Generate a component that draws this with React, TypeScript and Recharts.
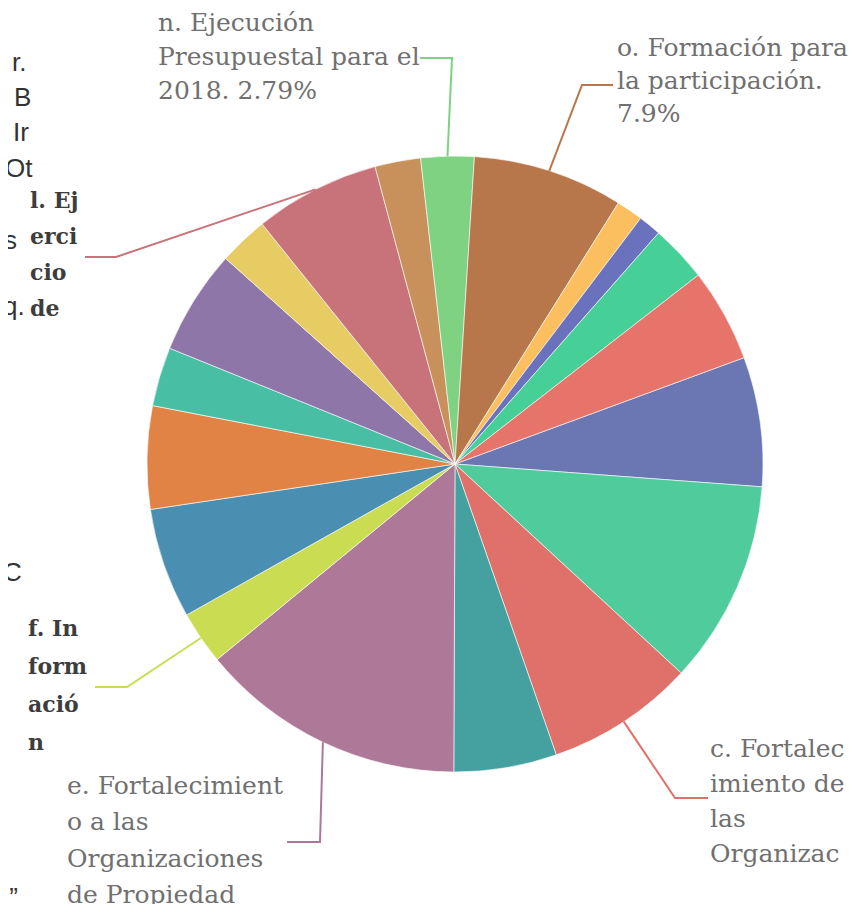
import type { JSX } from "react";

import { Cell, Pie, PieChart } from "recharts";

// slices clockwise, starting at the "a." slice
const categories = ["a", "b", "c", "d", "e", "f", "g", "h", "i", "j", "k", "l", "m", "n", "o", "p", "q", "r", "s"];
const shares = [6.8, 10.7, 7.8, 5.4, 14.0, 2.8, 5.8, 5.4, 3.1, 5.5, 2.6, 6.6, 2.4, 2.79, 7.9, 1.4, 1.2, 3.0, 4.9];
const colors = [
	"#6b77b2", "#4fcb9c", "#e0716a", "#45a0a0", "#ae7898", "#cadc52", "#4a8fb1", "#e08345", "#48bfa5", "#8f76a8",
	"#e6cc62", "#c8737a", "#c8915c", "#7fd282", "#b7774a", "#fbbf5f", "#6a72bd", "#46d098", "#e6746a",
];

const labelText: Record<string, string[]> = {
	c: ["c. Fortalec", "imiento de", "las", "Organizac"],
	e: ["e. Fortalecimient", "o a las", "Organizaciones", "de Propiedad"],
	f: ["f. In", "form", "ació", "n"],
	l: ["l. Ej", "erci", "cio", "de"],
	n: ["n. Ejecución", "Presupuestal para el", "2018. 2.79%"],
	o: ["o. Formación para", "la participación.", "7.9%"],
};

type LabelLayout = { elbow: [number, number]; end: [number, number]; x: number; y: number; step: number; dark?: boolean };

const labelLayout: Record<string, LabelLayout> = {
	c: { elbow: [675, 798], end: [708, 798], x: 710, y: 748, step: 35 },
	e: { elbow: [320, 842], end: [287, 842], x: 67, y: 785, step: 36.5 },
	f: { elbow: [127, 687], end: [95, 687], x: 28, y: 628, step: 38, dark: true },
	l: { elbow: [116, 257], end: [85, 257], x: 30, y: 200, step: 36, dark: true },
	n: { elbow: [452, 58], end: [420, 58], x: 158, y: 22, step: 34 },
	o: { elbow: [582, 85], end: [613, 85], x: 617, y: 47, step: 33 },
};

const data = categories.map((c, i) => ({ name: c, value: shares[i] }));

function SliceLabel(props: any): JSX.Element | null {
	const { cx, cy, midAngle, outerRadius, index } = props;
	const key = categories[index];
	const layout = labelLayout[key];
	if (!layout) return null;
	const rad = (-midAngle * Math.PI) / 180;
	const sx = cx + outerRadius * Math.cos(rad);
	const sy = cy + outerRadius * Math.sin(rad);
	return (
		<g>
			<polyline
				fill="none"
				points={`${sx},${sy} ${layout.elbow[0]},${layout.elbow[1]} ${layout.end[0]},${layout.end[1]}`}
				stroke={colors[index]}
				strokeWidth={2}
			/>
			{labelText[key].map((line, i) => (
				<text
					dominantBaseline="central"
					fill={layout.dark ? "#3d3d3d" : "#707070"}
					fontFamily="DejaVu Serif"
					fontSize={layout.dark ? 22 : 25}
					fontWeight={layout.dark ? 700 : 400}
					key={line}
					x={layout.x}
					y={layout.y + i * layout.step}
				>
					{line}
				</text>
			))}
		</g>
	);
}

// cut-off fragments of the neighbouring legend at the left edge
const fragments = [
	{ text: "r.", x: 12, y: 62 },
	{ text: "B", x: 14, y: 97 },
	{ text: "Ir", x: 13, y: 132 },
	{ text: "Ot", x: 5, y: 168 },
	{ text: "s", x: 4, y: 240 },
	{ text: "q.", x: 3, y: 306 },
	{ text: "C", x: 3, y: 572 },
	{ text: ",”", x: 2, y: 897 },
];

export default function App(): JSX.Element {
	return (
		<div style={{ height: 912, margin: -8, position: "relative", width: 864 }}>
			<PieChart height={912} margin={{ bottom: 0, left: 0, right: 0, top: 0 }} width={864}>
				<Pie
					cx={455}
					cy={464}
					data={data}
					dataKey="value"
					endAngle={-339.8}
					isAnimationActive={false}
					label={SliceLabel}
					labelLine={false}
					outerRadius={308}
					startAngle={20.2}
					stroke="rgba(255,255,255,0.6)"
					strokeWidth={1}
				>
					{data.map((d, i) => (
						<Cell fill={colors[i]} key={d.name} />
					))}
				</Pie>
			</PieChart>
			<div style={{ background: "#f5b840", borderRadius: "50%", height: 16, left: -8, position: "absolute", top: 54, width: 16 }} />
			{fragments.map((f) => (
				<div
					key={f.text + f.y}
					style={{
						color: "#333",
						fontFamily: "Liberation Sans",
						fontSize: 26,
						left: f.x,
						lineHeight: "28px",
						position: "absolute",
						top: f.y - 14,
					}}
				>
					{f.text}
				</div>
			))}
		</div>
	);
}
